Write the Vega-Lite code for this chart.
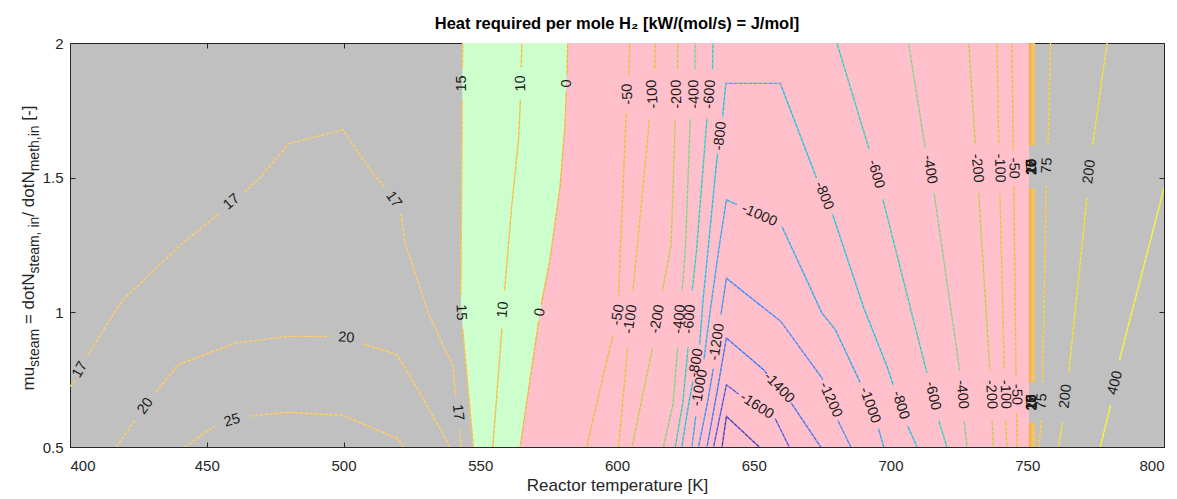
{
  "$schema": "https://vega.github.io/schema/vega-lite/v6.json",
  "width": 1094,
  "height": 404,
  "autosize": {"type": "none"},
  "padding": {"left": 70, "top": 43, "right": 13, "bottom": 52},
  "background": "#ffffff",
  "title": {
    "text": "Heat required per mole H₂ [kW/(mol/s) = J/mol]",
    "font": "Liberation Sans",
    "fontSize": 16.5,
    "fontWeight": "bold",
    "color": "#000000",
    "anchor": "middle",
    "baseline": "alphabetic",
    "offset": -9
  },
  "config": {
    "view": {"fill": "#c0c0c0", "stroke": "#262626", "strokeWidth": 1},
    "axis": {
      "domain": false,
      "grid": false,
      "labelFont": "Liberation Sans",
      "labelFontSize": 15,
      "labelColor": "#262626",
      "tickColor": "#262626",
      "tickSize": -5,
      "titleFont": "Liberation Sans",
      "titleFontSize": 17,
      "titleFontWeight": "normal",
      "titleColor": "#262626"
    }
  },
  "datasets": {
    "bands": [
      {"mu": 0.5, "k15": 547.5, "k0": 564.6, "kr": 750.6},
      {"mu": 0.75, "k15": 545.3, "k0": 568.3, "kr": 750.6},
      {"mu": 0.95, "k15": 543.5, "k0": 571.2, "kr": 750.6},
      {"mu": 1.05, "k15": 542.9, "k0": 572.6, "kr": 750.6},
      {"mu": 1.196, "k15": 543.0, "k0": 575.5, "kr": 750.6},
      {"mu": 1.468, "k15": 543.2, "k0": 579.2, "kr": 750.6},
      {"mu": 1.7, "k15": 543.4, "k0": 581.0, "kr": 750.6},
      {"mu": 1.8, "k15": 543.4, "k0": 581.4, "kr": 750.6},
      {"mu": 2.0, "k15": 543.6, "k0": 582.0, "kr": 750.6}
    ],
    "contours": [
      {"lvl": "17", "seg": "17a", "k": 400, "mu": 0.725},
      {"lvl": "17", "seg": "17a", "k": 402.2, "mu": 0.75},
      {"lvl": "17", "seg": "17b", "k": 406.6, "mu": 0.842},
      {"lvl": "17", "seg": "17b", "k": 416.5, "mu": 1.004},
      {"lvl": "17", "seg": "17b", "k": 420, "mu": 1.053},
      {"lvl": "17", "seg": "17b", "k": 440.2, "mu": 1.248},
      {"lvl": "17", "seg": "17b", "k": 454.5, "mu": 1.366},
      {"lvl": "17", "seg": "17c", "k": 463.8, "mu": 1.447},
      {"lvl": "17", "seg": "17c", "k": 468.9, "mu": 1.493},
      {"lvl": "17", "seg": "17c", "k": 479.9, "mu": 1.626},
      {"lvl": "17", "seg": "17c", "k": 499.8, "mu": 1.678},
      {"lvl": "17", "seg": "17c", "k": 511, "mu": 1.511},
      {"lvl": "17", "seg": "17c", "k": 515.2, "mu": 1.465},
      {"lvl": "17", "seg": "17d", "k": 521, "mu": 1.365},
      {"lvl": "17", "seg": "17d", "k": 522.6, "mu": 1.257},
      {"lvl": "17", "seg": "17d", "k": 531, "mu": 0.998},
      {"lvl": "17", "seg": "17d", "k": 540, "mu": 0.8},
      {"lvl": "17", "seg": "17d", "k": 541, "mu": 0.69},
      {"lvl": "17", "seg": "17e", "k": 542.5, "mu": 0.565},
      {"lvl": "17", "seg": "17e", "k": 543, "mu": 0.5},
      {"lvl": "20", "seg": "20a", "k": 417, "mu": 0.5},
      {"lvl": "20", "seg": "20a", "k": 423.8, "mu": 0.6},
      {"lvl": "20", "seg": "20b", "k": 431.6, "mu": 0.706},
      {"lvl": "20", "seg": "20b", "k": 439.6, "mu": 0.806},
      {"lvl": "20", "seg": "20b", "k": 460.4, "mu": 0.886},
      {"lvl": "20", "seg": "20b", "k": 479.9, "mu": 0.911},
      {"lvl": "20", "seg": "20b", "k": 494.8, "mu": 0.911},
      {"lvl": "20", "seg": "20c", "k": 507, "mu": 0.883},
      {"lvl": "20", "seg": "20c", "k": 519.5, "mu": 0.843},
      {"lvl": "20", "seg": "20c", "k": 528.7, "mu": 0.688},
      {"lvl": "20", "seg": "20c", "k": 539, "mu": 0.5},
      {"lvl": "25", "seg": "25a", "k": 442, "mu": 0.5},
      {"lvl": "25", "seg": "25a", "k": 452.8, "mu": 0.578},
      {"lvl": "25", "seg": "25b", "k": 466, "mu": 0.615},
      {"lvl": "25", "seg": "25b", "k": 479.9, "mu": 0.629},
      {"lvl": "25", "seg": "25b", "k": 499.8, "mu": 0.617},
      {"lvl": "25", "seg": "25b", "k": 519.5, "mu": 0.533},
      {"lvl": "25", "seg": "25b", "k": 522, "mu": 0.5},
      {"lvl": "15", "seg": "15a", "k": 543.6, "mu": 2},
      {"lvl": "15", "seg": "15a", "k": 543.5, "mu": 1.91},
      {"lvl": "15", "seg": "15b", "k": 543.4, "mu": 1.79},
      {"lvl": "15", "seg": "15b", "k": 543.2, "mu": 1.468},
      {"lvl": "15", "seg": "15b", "k": 543, "mu": 1.196},
      {"lvl": "15", "seg": "15b", "k": 542.9, "mu": 1.06},
      {"lvl": "15", "seg": "15c", "k": 543.2, "mu": 0.945},
      {"lvl": "15", "seg": "15c", "k": 543.6, "mu": 0.936},
      {"lvl": "15", "seg": "15c", "k": 547.5, "mu": 0.5},
      {"lvl": "10", "seg": "10a", "k": 565.2, "mu": 2},
      {"lvl": "10", "seg": "10a", "k": 565, "mu": 1.91},
      {"lvl": "10", "seg": "10b", "k": 564.7, "mu": 1.79},
      {"lvl": "10", "seg": "10b", "k": 564, "mu": 1.64},
      {"lvl": "10", "seg": "10b", "k": 561.5, "mu": 1.394},
      {"lvl": "10", "seg": "10b", "k": 558.9, "mu": 1.08},
      {"lvl": "10", "seg": "10c", "k": 557.9, "mu": 0.94},
      {"lvl": "10", "seg": "10c", "k": 554.6, "mu": 0.5},
      {"lvl": "0", "seg": "0a", "k": 582, "mu": 2},
      {"lvl": "0", "seg": "0a", "k": 581.7, "mu": 1.88},
      {"lvl": "0", "seg": "0b", "k": 581.5, "mu": 1.82},
      {"lvl": "0", "seg": "0b", "k": 581, "mu": 1.7},
      {"lvl": "0", "seg": "0b", "k": 579.2, "mu": 1.468},
      {"lvl": "0", "seg": "0b", "k": 575.5, "mu": 1.196},
      {"lvl": "0", "seg": "0b", "k": 572.3, "mu": 1.03},
      {"lvl": "0", "seg": "0c", "k": 571.4, "mu": 0.97},
      {"lvl": "0", "seg": "0c", "k": 564.6, "mu": 0.5},
      {"lvl": "-50", "seg": "m50a", "k": 604.6, "mu": 2},
      {"lvl": "-50", "seg": "m50a", "k": 604.4, "mu": 1.88},
      {"lvl": "-50", "seg": "m50b", "k": 603.4, "mu": 1.74},
      {"lvl": "-50", "seg": "m50b", "k": 601.2, "mu": 1.233},
      {"lvl": "-50", "seg": "m50b", "k": 600.6, "mu": 1.06},
      {"lvl": "-50", "seg": "m50c", "k": 598.6, "mu": 0.92},
      {"lvl": "-50", "seg": "m50c", "k": 590.8, "mu": 0.583},
      {"lvl": "-50", "seg": "m50c", "k": 589, "mu": 0.5},
      {"lvl": "-100", "seg": "m100a", "k": 614, "mu": 2},
      {"lvl": "-100", "seg": "m100a", "k": 613.8, "mu": 1.9},
      {"lvl": "-100", "seg": "m100b", "k": 611.9, "mu": 1.72},
      {"lvl": "-100", "seg": "m100b", "k": 607.3, "mu": 1.233},
      {"lvl": "-100", "seg": "m100b", "k": 605.8, "mu": 1.08},
      {"lvl": "-100", "seg": "m100c", "k": 603.9, "mu": 0.87},
      {"lvl": "-100", "seg": "m100c", "k": 600.6, "mu": 0.5},
      {"lvl": "-200", "seg": "m200a", "k": 622.2, "mu": 2},
      {"lvl": "-200", "seg": "m200a", "k": 622.1, "mu": 1.9},
      {"lvl": "-200", "seg": "m200b", "k": 621.3, "mu": 1.72},
      {"lvl": "-200", "seg": "m200b", "k": 619.8, "mu": 1.25},
      {"lvl": "-200", "seg": "m200b", "k": 616.6, "mu": 1.08},
      {"lvl": "-200", "seg": "m200c", "k": 613, "mu": 0.87},
      {"lvl": "-200", "seg": "m200c", "k": 605.5, "mu": 0.5},
      {"lvl": "-400", "seg": "m400a", "k": 628.6, "mu": 2},
      {"lvl": "-400", "seg": "m400a", "k": 628.5, "mu": 1.9},
      {"lvl": "-400", "seg": "m400b", "k": 626.8, "mu": 1.72},
      {"lvl": "-400", "seg": "m400b", "k": 625, "mu": 1.233},
      {"lvl": "-400", "seg": "m400b", "k": 623.8, "mu": 1.08},
      {"lvl": "-400", "seg": "m400c", "k": 622.2, "mu": 0.87},
      {"lvl": "-400", "seg": "m400c", "k": 620.5, "mu": 0.66},
      {"lvl": "-400", "seg": "m400c", "k": 617, "mu": 0.5},
      {"lvl": "-600", "seg": "m600a", "k": 635.1, "mu": 2},
      {"lvl": "-600", "seg": "m600a", "k": 634.9, "mu": 1.9},
      {"lvl": "-600", "seg": "m600b", "k": 632.9, "mu": 1.72},
      {"lvl": "-600", "seg": "m600b", "k": 629.1, "mu": 1.233},
      {"lvl": "-600", "seg": "m600b", "k": 627.5, "mu": 1.08},
      {"lvl": "-600", "seg": "m600c", "k": 626, "mu": 0.87},
      {"lvl": "-600", "seg": "m600c", "k": 624, "mu": 0.66},
      {"lvl": "-600", "seg": "m600c", "k": 621.3, "mu": 0.5},
      {"lvl": "-800", "seg": "m800a", "k": 623.7, "mu": 0.5},
      {"lvl": "-800", "seg": "m800a", "k": 626.2, "mu": 0.66},
      {"lvl": "-800", "seg": "m800a", "k": 627.8, "mu": 0.745},
      {"lvl": "-800", "seg": "m800b", "k": 630.2, "mu": 0.88},
      {"lvl": "-800", "seg": "m800b", "k": 631.5, "mu": 1.05},
      {"lvl": "-800", "seg": "m800b", "k": 633.3, "mu": 1.233},
      {"lvl": "-800", "seg": "m800b", "k": 636.5, "mu": 1.567},
      {"lvl": "-800", "seg": "m800b", "k": 636.9, "mu": 1.59},
      {"lvl": "-800", "seg": "m800c", "k": 638.6, "mu": 1.725},
      {"lvl": "-800", "seg": "m800c", "k": 639.8, "mu": 1.85},
      {"lvl": "-800", "seg": "m800c", "k": 659.7, "mu": 1.85},
      {"lvl": "-800", "seg": "m800c", "k": 672.5, "mu": 1.511},
      {"lvl": "-800", "seg": "m800c", "k": 672.9, "mu": 1.5},
      {"lvl": "-800", "seg": "m800d", "k": 678.8, "mu": 1.365},
      {"lvl": "-800", "seg": "m800d", "k": 690.1, "mu": 1.02},
      {"lvl": "-800", "seg": "m800d", "k": 698.7, "mu": 0.8},
      {"lvl": "-800", "seg": "m800d", "k": 701, "mu": 0.73},
      {"lvl": "-800", "seg": "m800e", "k": 706.2, "mu": 0.58},
      {"lvl": "-800", "seg": "m800e", "k": 709.7, "mu": 0.5},
      {"lvl": "-1000", "seg": "m1000a", "k": 627.4, "mu": 0.5},
      {"lvl": "-1000", "seg": "m1000a", "k": 628.8, "mu": 0.615},
      {"lvl": "-1000", "seg": "m1000b", "k": 631.8, "mu": 0.825},
      {"lvl": "-1000", "seg": "m1000b", "k": 634, "mu": 1.0},
      {"lvl": "-1000", "seg": "m1000b", "k": 637.2, "mu": 1.233},
      {"lvl": "-1000", "seg": "m1000b", "k": 640, "mu": 1.418},
      {"lvl": "-1000", "seg": "m1000b", "k": 643.8, "mu": 1.4},
      {"lvl": "-1000", "seg": "m1000c", "k": 660.3, "mu": 1.319},
      {"lvl": "-1000", "seg": "m1000c", "k": 674.9, "mu": 0.998},
      {"lvl": "-1000", "seg": "m1000c", "k": 679.8, "mu": 0.936},
      {"lvl": "-1000", "seg": "m1000c", "k": 688.9, "mu": 0.74},
      {"lvl": "-1000", "seg": "m1000d", "k": 695.6, "mu": 0.57},
      {"lvl": "-1000", "seg": "m1000d", "k": 697.5, "mu": 0.5},
      {"lvl": "-1200", "seg": "m1200a", "k": 629.8, "mu": 0.5},
      {"lvl": "-1200", "seg": "m1200a", "k": 633, "mu": 0.66},
      {"lvl": "-1200", "seg": "m1200a", "k": 635.2, "mu": 0.79},
      {"lvl": "-1200", "seg": "m1200b", "k": 638, "mu": 0.99},
      {"lvl": "-1200", "seg": "m1200b", "k": 640, "mu": 1.127},
      {"lvl": "-1200", "seg": "m1200b", "k": 659.8, "mu": 0.967},
      {"lvl": "-1200", "seg": "m1200b", "k": 674.5, "mu": 0.762},
      {"lvl": "-1200", "seg": "m1200b", "k": 675.3, "mu": 0.75},
      {"lvl": "-1200", "seg": "m1200c", "k": 680.7, "mu": 0.6},
      {"lvl": "-1200", "seg": "m1200c", "k": 685.5, "mu": 0.5},
      {"lvl": "-1400", "seg": "m1400a", "k": 632.9, "mu": 0.5},
      {"lvl": "-1400", "seg": "m1400a", "k": 636.5, "mu": 0.7},
      {"lvl": "-1400", "seg": "m1400a", "k": 640, "mu": 0.905},
      {"lvl": "-1400", "seg": "m1400a", "k": 653.6, "mu": 0.787},
      {"lvl": "-1400", "seg": "m1400a", "k": 654.8, "mu": 0.772},
      {"lvl": "-1400", "seg": "m1400b", "k": 663.6, "mu": 0.665},
      {"lvl": "-1400", "seg": "m1400b", "k": 674.5, "mu": 0.5},
      {"lvl": "-1600", "seg": "m1600a", "k": 635.3, "mu": 0.5},
      {"lvl": "-1600", "seg": "m1600a", "k": 640, "mu": 0.731},
      {"lvl": "-1600", "seg": "m1600a", "k": 644.4, "mu": 0.697},
      {"lvl": "-1600", "seg": "m1600b", "k": 657.8, "mu": 0.606},
      {"lvl": "-1600", "seg": "m1600b", "k": 663, "mu": 0.5},
      {"lvl": "-1800", "seg": "m1800a", "k": 638.4, "mu": 0.5},
      {"lvl": "-1800", "seg": "m1800a", "k": 640, "mu": 0.614},
      {"lvl": "-1800", "seg": "m1800a", "k": 652, "mu": 0.5},
      {"lvl": "-600", "seg": "m600ra", "k": 680.4, "mu": 2},
      {"lvl": "-600", "seg": "m600ra", "k": 692.2, "mu": 1.605},
      {"lvl": "-600", "seg": "m600rb", "k": 697.2, "mu": 1.42},
      {"lvl": "-600", "seg": "m600rb", "k": 713.3, "mu": 0.775},
      {"lvl": "-600", "seg": "m600rc", "k": 717.6, "mu": 0.6},
      {"lvl": "-600", "seg": "m600rc", "k": 720.6, "mu": 0.5},
      {"lvl": "-400", "seg": "m400ra", "k": 706.6, "mu": 2},
      {"lvl": "-400", "seg": "m400ra", "k": 712.7, "mu": 1.61},
      {"lvl": "-400", "seg": "m400rb", "k": 715.9, "mu": 1.445},
      {"lvl": "-400", "seg": "m400rb", "k": 725.3, "mu": 0.785},
      {"lvl": "-400", "seg": "m400rc", "k": 726.9, "mu": 0.6},
      {"lvl": "-400", "seg": "m400rc", "k": 728, "mu": 0.5},
      {"lvl": "-200", "seg": "m200ra", "k": 728.6, "mu": 2},
      {"lvl": "-200", "seg": "m200ra", "k": 731, "mu": 1.625},
      {"lvl": "-200", "seg": "m200rb", "k": 732.2, "mu": 1.445},
      {"lvl": "-200", "seg": "m200rb", "k": 736.3, "mu": 0.785},
      {"lvl": "-200", "seg": "m200rc", "k": 737.1, "mu": 0.6},
      {"lvl": "-200", "seg": "m200rc", "k": 737.7, "mu": 0.5},
      {"lvl": "-100", "seg": "m100ra", "k": 738.9, "mu": 2},
      {"lvl": "-100", "seg": "m100ra", "k": 739.6, "mu": 1.63},
      {"lvl": "-100", "seg": "m100rb", "k": 740, "mu": 1.44},
      {"lvl": "-100", "seg": "m100rb", "k": 741.6, "mu": 0.79},
      {"lvl": "-100", "seg": "m100rc", "k": 742.1, "mu": 0.6},
      {"lvl": "-100", "seg": "m100rc", "k": 742.6, "mu": 0.5},
      {"lvl": "-50", "seg": "m50ra", "k": 744.4, "mu": 2},
      {"lvl": "-50", "seg": "m50ra", "k": 744.9, "mu": 1.6},
      {"lvl": "-50", "seg": "m50rb", "k": 745.1, "mu": 1.47},
      {"lvl": "-50", "seg": "m50rb", "k": 745.9, "mu": 0.76},
      {"lvl": "-50", "seg": "m50rc", "k": 746.1, "mu": 0.63},
      {"lvl": "-50", "seg": "m50rc", "k": 746.3, "mu": 0.5},
      {"lvl": "0", "seg": "0ra", "k": 750.9, "mu": 2},
      {"lvl": "0", "seg": "0ra", "k": 750.9, "mu": 1.62},
      {"lvl": "0", "seg": "0rb", "k": 750.9, "mu": 1.46},
      {"lvl": "0", "seg": "0rb", "k": 750.9, "mu": 0.74},
      {"lvl": "0", "seg": "0rc", "k": 750.9, "mu": 0.59},
      {"lvl": "0", "seg": "0rc", "k": 750.9, "mu": 0.5},
      {"lvl": "10", "seg": "10ra", "k": 751.3, "mu": 2},
      {"lvl": "10", "seg": "10ra", "k": 751.3, "mu": 1.62},
      {"lvl": "10", "seg": "10rb", "k": 751.3, "mu": 1.46},
      {"lvl": "10", "seg": "10rb", "k": 751.3, "mu": 0.74},
      {"lvl": "10", "seg": "10rc", "k": 751.3, "mu": 0.59},
      {"lvl": "10", "seg": "10rc", "k": 751.3, "mu": 0.5},
      {"lvl": "15", "seg": "15ra", "k": 751.6, "mu": 2},
      {"lvl": "15", "seg": "15ra", "k": 751.6, "mu": 1.62},
      {"lvl": "15", "seg": "15rb", "k": 751.6, "mu": 1.46},
      {"lvl": "15", "seg": "15rb", "k": 751.6, "mu": 0.74},
      {"lvl": "15", "seg": "15rc", "k": 751.6, "mu": 0.59},
      {"lvl": "15", "seg": "15rc", "k": 751.6, "mu": 0.5},
      {"lvl": "17", "seg": "17ra", "k": 751.9, "mu": 2},
      {"lvl": "17", "seg": "17ra", "k": 751.9, "mu": 1.62},
      {"lvl": "17", "seg": "17rb", "k": 751.9, "mu": 1.46},
      {"lvl": "17", "seg": "17rb", "k": 751.9, "mu": 0.74},
      {"lvl": "17", "seg": "17rc", "k": 751.9, "mu": 0.59},
      {"lvl": "17", "seg": "17rc", "k": 751.9, "mu": 0.5},
      {"lvl": "20", "seg": "20ra", "k": 752.2, "mu": 2},
      {"lvl": "20", "seg": "20ra", "k": 752.2, "mu": 1.62},
      {"lvl": "20", "seg": "20rb", "k": 752.2, "mu": 1.46},
      {"lvl": "20", "seg": "20rb", "k": 752.2, "mu": 0.74},
      {"lvl": "20", "seg": "20rc", "k": 752.2, "mu": 0.59},
      {"lvl": "20", "seg": "20rc", "k": 752.2, "mu": 0.5},
      {"lvl": "25", "seg": "25ra", "k": 752.6, "mu": 2},
      {"lvl": "25", "seg": "25ra", "k": 752.6, "mu": 1.62},
      {"lvl": "25", "seg": "25rb", "k": 752.6, "mu": 1.46},
      {"lvl": "25", "seg": "25rb", "k": 752.6, "mu": 0.74},
      {"lvl": "25", "seg": "25rc", "k": 752.6, "mu": 0.59},
      {"lvl": "25", "seg": "25rc", "k": 752.6, "mu": 0.5},
      {"lvl": "75", "seg": "75a", "k": 758.5, "mu": 2},
      {"lvl": "75", "seg": "75a", "k": 757.6, "mu": 1.62},
      {"lvl": "75", "seg": "75b", "k": 757, "mu": 1.47},
      {"lvl": "75", "seg": "75b", "k": 755.6, "mu": 0.74},
      {"lvl": "75", "seg": "75c", "k": 755.2, "mu": 0.6},
      {"lvl": "75", "seg": "75c", "k": 754.2, "mu": 0.5},
      {"lvl": "200", "seg": "200a", "k": 779.2, "mu": 2},
      {"lvl": "200", "seg": "200a", "k": 773.9, "mu": 1.62},
      {"lvl": "200", "seg": "200b", "k": 771.8, "mu": 1.425},
      {"lvl": "200", "seg": "200b", "k": 765.2, "mu": 0.775},
      {"lvl": "200", "seg": "200c", "k": 762.9, "mu": 0.59},
      {"lvl": "200", "seg": "200c", "k": 761.5, "mu": 0.5},
      {"lvl": "400", "seg": "400a", "k": 800, "mu": 1.462},
      {"lvl": "400", "seg": "400a", "k": 783.7, "mu": 0.822},
      {"lvl": "400", "seg": "400b", "k": 780.5, "mu": 0.655},
      {"lvl": "400", "seg": "400b", "k": 776.7, "mu": 0.5}
    ],
    "labels": [
      {"lvl": "17", "k": 403.7, "mu": 0.787, "dir": -60},
      {"lvl": "17", "k": 459.1, "mu": 1.41, "dir": -40},
      {"lvl": "17", "k": 518.3, "mu": 1.418, "dir": 54},
      {"lvl": "17", "k": 541.8, "mu": 0.628, "dir": 83},
      {"lvl": "20", "k": 427.6, "mu": 0.652, "dir": -54},
      {"lvl": "20", "k": 501, "mu": 0.905, "dir": 4},
      {"lvl": "25", "k": 459.3, "mu": 0.598, "dir": -16},
      {"lvl": "15", "k": 543.5, "mu": 1.85, "dir": -90},
      {"lvl": "15", "k": 542.9, "mu": 1.0, "dir": 88},
      {"lvl": "10", "k": 564.9, "mu": 1.85, "dir": -92},
      {"lvl": "10", "k": 558.4, "mu": 1.01, "dir": -85},
      {"lvl": "0", "k": 581.6, "mu": 1.85, "dir": -90},
      {"lvl": "0", "k": 571.9, "mu": 1.0, "dir": -80},
      {"lvl": "-50", "k": 604, "mu": 1.81, "dir": -93},
      {"lvl": "-50", "k": 600.4, "mu": 0.99, "dir": -80},
      {"lvl": "-100", "k": 613.1, "mu": 1.81, "dir": -94},
      {"lvl": "-100", "k": 605, "mu": 0.975, "dir": -82},
      {"lvl": "-200", "k": 621.9, "mu": 1.81, "dir": -92},
      {"lvl": "-200", "k": 614.8, "mu": 0.975, "dir": -80},
      {"lvl": "-400", "k": 628.3, "mu": 1.81, "dir": -92},
      {"lvl": "-400", "k": 622.9, "mu": 0.975, "dir": -85},
      {"lvl": "-600", "k": 634, "mu": 1.81, "dir": -86},
      {"lvl": "-600", "k": 626.6, "mu": 0.975, "dir": -85},
      {"lvl": "-800", "k": 629, "mu": 0.812, "dir": -80},
      {"lvl": "-800", "k": 637.8, "mu": 1.655, "dir": -84},
      {"lvl": "-800", "k": 675.6, "mu": 1.433, "dir": 68},
      {"lvl": "-800", "k": 703.6, "mu": 0.655, "dir": 73},
      {"lvl": "-1000", "k": 630.3, "mu": 0.72, "dir": -80},
      {"lvl": "-1000", "k": 652, "mu": 1.36, "dir": 24},
      {"lvl": "-1000", "k": 692.4, "mu": 0.655, "dir": 70},
      {"lvl": "-1200", "k": 636.6, "mu": 0.89, "dir": -81},
      {"lvl": "-1200", "k": 678, "mu": 0.675, "dir": 66},
      {"lvl": "-1400", "k": 659.2, "mu": 0.72, "dir": 46},
      {"lvl": "-1600", "k": 651.1, "mu": 0.652, "dir": 33},
      {"lvl": "-600", "k": 694.6, "mu": 1.513, "dir": 74},
      {"lvl": "-600", "k": 715.4, "mu": 0.69, "dir": 77},
      {"lvl": "-400", "k": 714.3, "mu": 1.53, "dir": 80},
      {"lvl": "-400", "k": 726.1, "mu": 0.695, "dir": 84},
      {"lvl": "-200", "k": 731.6, "mu": 1.535, "dir": 84},
      {"lvl": "-200", "k": 736.7, "mu": 0.695, "dir": 86},
      {"lvl": "-100", "k": 739.8, "mu": 1.535, "dir": 88},
      {"lvl": "-100", "k": 741.9, "mu": 0.695, "dir": 88},
      {"lvl": "-50", "k": 745, "mu": 1.535, "dir": 89},
      {"lvl": "-50", "k": 746, "mu": 0.695, "dir": 89},
      {"lvl": "0", "k": 751.8, "mu": 1.54, "dir": -90},
      {"lvl": "10", "k": 751.8, "mu": 1.54, "dir": -90},
      {"lvl": "15", "k": 751.8, "mu": 1.54, "dir": -90},
      {"lvl": "17", "k": 751.8, "mu": 1.54, "dir": -90},
      {"lvl": "20", "k": 751.8, "mu": 1.54, "dir": -90},
      {"lvl": "25", "k": 751.8, "mu": 1.54, "dir": -90},
      {"lvl": "0", "k": 751.8, "mu": 0.665, "dir": -90},
      {"lvl": "10", "k": 751.8, "mu": 0.665, "dir": -90},
      {"lvl": "15", "k": 751.8, "mu": 0.665, "dir": -90},
      {"lvl": "17", "k": 751.8, "mu": 0.665, "dir": -90},
      {"lvl": "20", "k": 751.8, "mu": 0.665, "dir": -90},
      {"lvl": "25", "k": 751.8, "mu": 0.665, "dir": -90},
      {"lvl": "75", "k": 757.3, "mu": 1.545, "dir": -87},
      {"lvl": "75", "k": 755.4, "mu": 0.67, "dir": -87},
      {"lvl": "200", "k": 772.8, "mu": 1.522, "dir": -83},
      {"lvl": "200", "k": 764.1, "mu": 0.688, "dir": -84},
      {"lvl": "400", "k": 782.2, "mu": 0.738, "dir": -76}
    ]
  },
  "resolve": {"axis": {"x": "independent", "y": "independent"}},
  "layer": [
    {
      "data": {"name": "bands"},
      "mark": {"type": "area", "orient": "horizontal", "color": "#ccffcc"},
      "encoding": {
        "y": {
          "field": "mu", "type": "quantitative",
          "scale": {"domain": [0.5, 2], "nice": false, "zero": false},
          "axis": {"values": [0.5, 1, 1.5, 2], "format": "~g", "labelPadding": 12, "title": null}
        },
        "x": {
          "field": "k15", "type": "quantitative",
          "scale": {"domain": [400, 800], "nice": false, "zero": false},
          "axis": {
            "values": [400, 450, 500, 550, 600, 650, 700, 750, 800], "labelPadding": 16,
            "title": "Reactor temperature  [K]", "titlePadding": 4
          }
        },
        "x2": {"field": "k0"}
      }
    },
    {
      "data": {"name": "bands"},
      "mark": {"type": "area", "orient": "horizontal", "color": "#ffc0cb"},
      "encoding": {
        "y": {"field": "mu", "type": "quantitative", "axis": null},
        "x": {"field": "k0", "type": "quantitative", "axis": null},
        "x2": {"field": "kr"}
      }
    },
    {
      "data": {"name": "contours"},
      "transform": [{"window": [{"op": "row_number", "as": "i"}]}],
      "mark": {"type": "line", "strokeWidth": 1.3, "clip": true},
      "encoding": {
        "x": {"field": "k", "type": "quantitative", "axis": null},
        "y": {"field": "mu", "type": "quantitative", "axis": null},
        "detail": {"field": "seg", "type": "nominal"},
        "order": {"field": "i", "type": "quantitative"},
        "color": {
          "field": "lvl", "type": "nominal", "legend": null,
          "scale": {
            "domain": ["-1800", "-1600", "-1400", "-1200", "-1000", "-800", "-600", "-400", "-200", "-100", "-50", "0", "10", "15", "17", "20", "25", "75", "200", "400"],
            "range": ["#3b35b5", "#4650dc", "#3a6cee", "#3c84f2", "#2ea3e6", "#1cbcdc", "#2fc9b5", "#86cc84", "#c4c64c", "#e4c03c", "#f0b83a", "#f6b03a", "#f7b840", "#f7bc48", "#f4c366", "#f4c366", "#f4c366", "#f6c23e", "#ecdc2c", "#f4f41e"]
          }
        }
      }
    },
    {
      "data": {"name": "contours"},
      "transform": [
        {"window": [{"op": "row_number", "as": "i"}]},
        {"filter": "datum.k < 750 || datum.k > 753"}
      ],
      "mark": {"type": "line", "strokeWidth": 1.3, "stroke": "#ffffff", "opacity": 0.3, "strokeDash": [2, 3], "clip": true},
      "encoding": {
        "x": {"field": "k", "type": "quantitative", "axis": null},
        "y": {"field": "mu", "type": "quantitative", "axis": null},
        "detail": {"field": "seg", "type": "nominal"},
        "order": {"field": "i", "type": "quantitative"}
      }
    },
    {
      "data": {"name": "labels"},
      "mark": {"type": "text", "font": "Liberation Sans", "fontSize": 14.5, "color": "#1a1a1a", "align": "center", "baseline": "middle"},
      "encoding": {
        "x": {"field": "k", "type": "quantitative", "axis": null},
        "y": {"field": "mu", "type": "quantitative", "axis": null},
        "text": {"field": "lvl", "type": "nominal"},
        "angle": {"field": "dir", "type": "quantitative", "scale": null}
      }
    },
    {
      "data": {"name": "bands"},
      "mark": {"type": "point", "opacity": 0},
      "encoding": {
        "x": {
          "field": "k15", "type": "quantitative",
          "axis": {"orient": "top", "values": [400, 450, 500, 550, 600, 650, 700, 750, 800], "labels": false, "title": null}
        },
        "y": {
          "field": "mu", "type": "quantitative",
          "axis": {"orient": "right", "values": [0.5, 1, 1.5, 2], "labels": false, "title": null}
        }
      }
    },
    {
      "data": {"name": "bands"},
      "mark": {"type": "point", "opacity": 0},
      "encoding": {
        "x": {"field": "k15", "type": "quantitative", "axis": null},
        "y": {
          "field": "mu", "type": "quantitative",
          "axis": {"orient": "left", "labels": false, "ticks": false, "title": "mu", "titleFontSize": 17, "titleAngle": -90, "titleAlign": "left", "titleBaseline": "alphabetic", "titleX": -37, "titleY": 347}
        }
      }
    },
    {
      "data": {"name": "bands"},
      "mark": {"type": "point", "opacity": 0},
      "encoding": {
        "x": {"field": "k15", "type": "quantitative", "axis": null},
        "y": {
          "field": "mu", "type": "quantitative",
          "axis": {"orient": "left", "labels": false, "ticks": false, "title": "steam", "titleFontSize": 14, "titleAngle": -90, "titleAlign": "left", "titleBaseline": "alphabetic", "titleX": -32, "titleY": 323.4}
        }
      }
    },
    {
      "data": {"name": "bands"},
      "mark": {"type": "point", "opacity": 0},
      "encoding": {
        "x": {"field": "k15", "type": "quantitative", "axis": null},
        "y": {
          "field": "mu", "type": "quantitative",
          "axis": {"orient": "left", "labels": false, "ticks": false, "title": "= dotN", "titleFontSize": 17, "titleAngle": -90, "titleAlign": "left", "titleBaseline": "alphabetic", "titleX": -37, "titleY": 280.6}
        }
      }
    },
    {
      "data": {"name": "bands"},
      "mark": {"type": "point", "opacity": 0},
      "encoding": {
        "x": {"field": "k15", "type": "quantitative", "axis": null},
        "y": {
          "field": "mu", "type": "quantitative",
          "axis": {"orient": "left", "labels": false, "ticks": false, "title": "steam, in", "titleFontSize": 14, "titleAngle": -90, "titleAlign": "left", "titleBaseline": "alphabetic", "titleX": -32, "titleY": 230}
        }
      }
    },
    {
      "data": {"name": "bands"},
      "mark": {"type": "point", "opacity": 0},
      "encoding": {
        "x": {"field": "k15", "type": "quantitative", "axis": null},
        "y": {
          "field": "mu", "type": "quantitative",
          "axis": {"orient": "left", "labels": false, "ticks": false, "title": "/ dotN", "titleFontSize": 17, "titleAngle": -90, "titleAlign": "left", "titleBaseline": "alphabetic", "titleX": -37, "titleY": 173.2}
        }
      }
    },
    {
      "data": {"name": "bands"},
      "mark": {"type": "point", "opacity": 0},
      "encoding": {
        "x": {"field": "k15", "type": "quantitative", "axis": null},
        "y": {
          "field": "mu", "type": "quantitative",
          "axis": {"orient": "left", "labels": false, "ticks": false, "title": "meth,in", "titleFontSize": 14, "titleAngle": -90, "titleAlign": "left", "titleBaseline": "alphabetic", "titleX": -32, "titleY": 127.8}
        }
      }
    },
    {
      "data": {"name": "bands"},
      "mark": {"type": "point", "opacity": 0},
      "encoding": {
        "x": {"field": "k15", "type": "quantitative", "axis": null},
        "y": {
          "field": "mu", "type": "quantitative",
          "axis": {"orient": "left", "labels": false, "ticks": false, "title": "[-]", "titleFontSize": 17, "titleAngle": -90, "titleAlign": "left", "titleBaseline": "alphabetic", "titleX": -37, "titleY": 77.2}
        }
      }
    }
  ]
}
